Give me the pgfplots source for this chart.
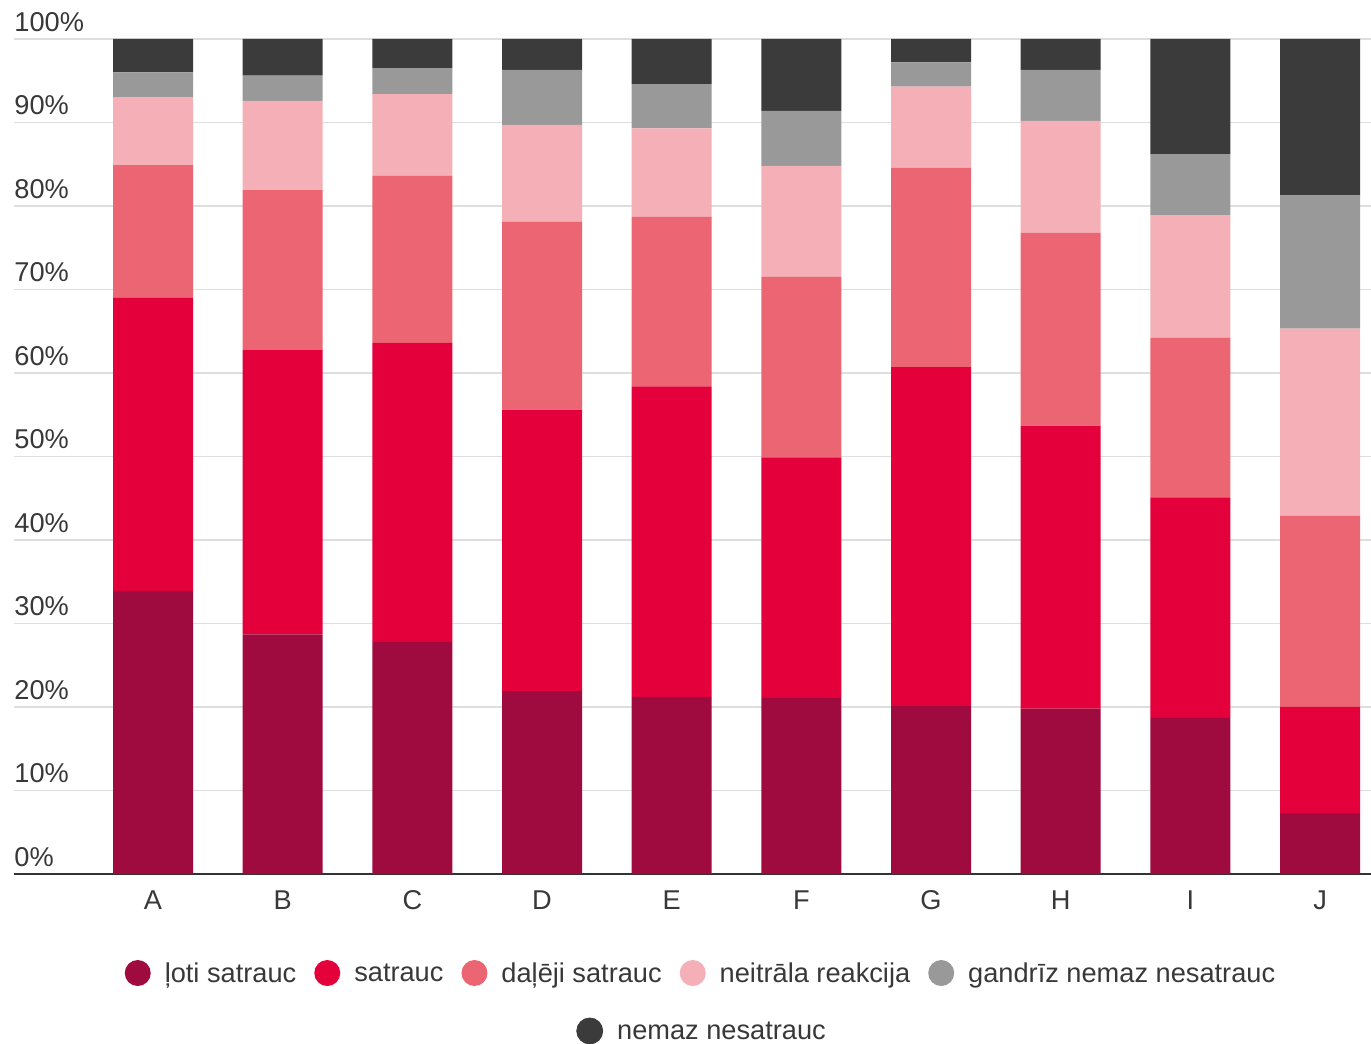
\documentclass[border=0pt]{standalone}
\usepackage{fontspec}
\setmainfont{Liberation Sans}
\usepackage{pgfplots}
\usepackage{pgfplotstable}
\pgfplotsset{compat=1.18}
\definecolor{c1}{HTML}{9F0A3F}
\definecolor{c2}{HTML}{E4003A}
\definecolor{c3}{HTML}{EC6572}
\definecolor{c4}{HTML}{F5AFB6}
\definecolor{c5}{HTML}{999999}
\definecolor{c6}{HTML}{3C3B3B}
\definecolor{txt}{HTML}{383838}
\definecolor{gridc}{HTML}{DEDEDE}
\definecolor{axc}{HTML}{333333}
\newcommand{\chfont}{\fontsize{13.6bp}{16bp}\selectfont}
\pgfplotstableread{
x s1 s2 s3 s4 s5 s6
0 33.9 35.1 15.9 8.15 2.95 4.0
1 28.7 34.05 19.15 10.7 3.0 4.4
2 27.8 35.8 20.0 9.8 3.1 3.5
3 21.9 33.7 22.5 11.6 6.6 3.7
4 21.2 37.2 20.3 10.6 5.3 5.4
5 21.1 28.8 21.6 13.3 6.6 8.6
6 20.1 40.6 23.9 9.7 2.9 2.8
7 19.8 33.9 23.1 13.4 6.1 3.7
8 18.7 26.4 19.1 14.7 7.3 13.8
9 7.3 12.7 22.9 22.4 16.0 18.7
}\datatable
\pgfplotsset{
  legstyle/.style={
    legend style={draw=none, fill=none, anchor=center, legend columns=5,
      font=\chfont, text=txt, inner sep=0pt, outer sep=0pt,
      cells={anchor=west},
      nodes={inner sep=0pt},
      /tikz/every odd column/.append style={column sep=7bp},
      /tikz/every even column/.append style={column sep=9bp}},
  },
}
\begin{document}
\begin{tikzpicture}
\useasboundingbox (0,0) rectangle (685.5bp,522bp);
\begin{axis}[
  at={(7bp,85bp)}, anchor=south west,
  scale only axis, width=678.5bp, height=417.5bp,
  ybar stacked, bar width=40bp,
  xmin=-1.072, xmax=9.393, ymin=0, ymax=100,
  enlargelimits=false,
  xtick={0,...,9}, xticklabels={A,B,C,D,E,F,G,H,I,J},
  ytick={0,10,...,100},
  yticklabels={0\%,10\%,20\%,30\%,40\%,50\%,60\%,70\%,80\%,90\%,100\%},
  separate axis lines,
  axis x line*=bottom, axis y line*=left,
  x axis line style={-, draw=axc, line width=1.3bp},
  y axis line style={draw=none},
  major tick length=0pt,
  ymajorgrids, grid style={draw=gridc, line width=0.6bp},
  tick label style={font=\chfont, text=txt},
  yticklabel style={anchor=south west, inner sep=0pt, yshift=3.5bp},
  xticklabel style={anchor=north, inner sep=0pt, yshift=-8bp},
  legstyle,
  legend style={at={(0.5055,-0.1186)}},
  clip=false,
]
\addplot[fill=c1, draw=none, legend image code/.code={\fill[c1] (0bp,0.5bp) circle (6.5bp);}] table[x=x,y=s1]{\datatable};
\addlegendentry{ļoti satrauc}
\addplot[fill=c2, draw=none, legend image code/.code={\fill[c2] (0bp,0.5bp) circle (6.5bp);}] table[x=x,y=s2]{\datatable};
\addlegendentry{satrauc}
\addplot[fill=c3, draw=none, legend image code/.code={\fill[c3] (0bp,0.5bp) circle (6.5bp);}] table[x=x,y=s3]{\datatable};
\addlegendentry{daļēji satrauc}
\addplot[fill=c4, draw=none, legend image code/.code={\fill[c4] (0bp,0.5bp) circle (6.5bp);}] table[x=x,y=s4]{\datatable};
\addlegendentry{neitrāla reakcija}
\addplot[fill=c5, draw=none, legend image code/.code={\fill[c5] (0bp,0.5bp) circle (6.5bp);}] table[x=x,y=s5]{\datatable};
\addlegendentry{gandrīz nemaz nesatrauc}
\addplot[fill=c6, draw=none, forget plot] table[x=x,y=s6]{\datatable};
\end{axis}
\begin{axis}[
  at={(7bp,85bp)}, anchor=south west,
  scale only axis, width=678.5bp, height=417.5bp,
  xmin=0, xmax=1, ymin=0, ymax=1, hide axis,
  legstyle,
  legend style={at={(0.5063,-0.188)}},
]
\addlegendimage{legend image code/.code={\fill[c6] (0bp,0.5bp) circle (6.5bp);}}
\addlegendentry{nemaz nesatrauc}
\end{axis}
\end{tikzpicture}
\end{document}
